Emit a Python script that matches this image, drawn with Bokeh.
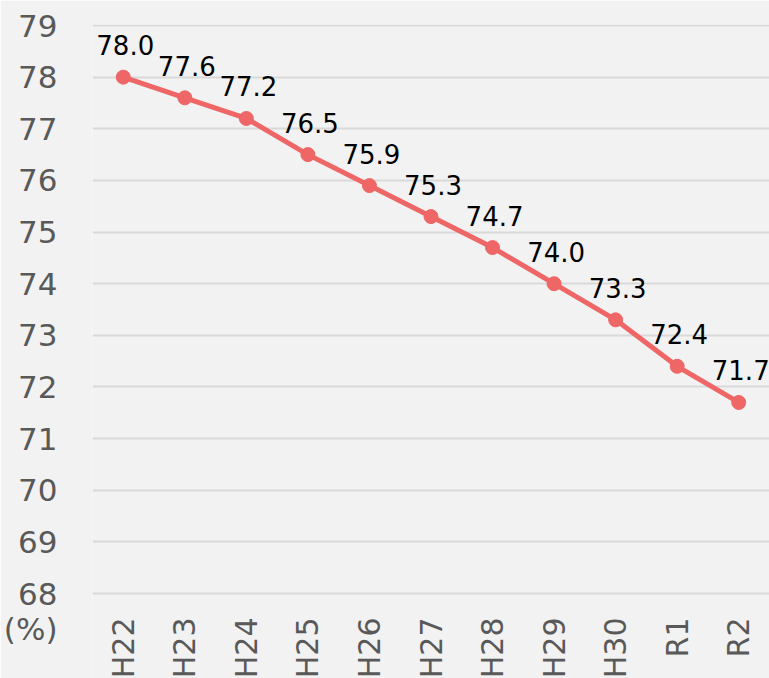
import math
from bokeh.plotting import figure
from bokeh.models import ColumnDataSource, FixedTicker, LabelSet, Range1d
from bokeh.core.properties import value
from bokeh.embed import file_html
from bokeh.resources import INLINE

categories = ["H22", "H23", "H24", "H25", "H26", "H27", "H28", "H29", "H30", "R1", "R2"]
values = [78.0, 77.6, 77.2, 76.5, 75.9, 75.3, 74.7, 74.0, 73.3, 72.4, 71.7]
y_ticks = list(range(68, 80))
unit_label = "(%)"
unit_pos = 67.32

src = ColumnDataSource(dict(x=categories, y=values, lbl=[f"{v:.1f}" for v in values]))
xsrc = ColumnDataSource(dict(x=categories, y=[61] * len(categories), t=categories))

FONT = "DejaVu Sans"
BG = "#f2f2f2"
LINE = "#ee6666"

p = figure(x_range=categories, y_range=Range1d(66.354, 79.02), width=769, height=678,
           output_backend="svg", toolbar_location=None,
           min_border_left=89, min_border_right=0, min_border_top=24, min_border_bottom=0)
p.background_fill_color = BG
p.border_fill_color = BG
p.outline_line_color = None

p.line("x", "y", source=src, line_color=LINE, line_width=5)
p.scatter("x", "y", source=src, size=14, fill_color=LINE, line_color=LINE)
p.text("x", "y", text="lbl", source=src, text_font=value(FONT), text_font_size="26px",
       text_color="#000000", text_align="center", text_baseline="middle",
       x_offset=2, y_offset=-32)

p.yaxis.ticker = FixedTicker(ticks=[unit_pos] + y_ticks)
p.yaxis.major_label_overrides = {unit_pos: unit_label}
p.yaxis.axis_line_color = None
p.yaxis.major_tick_line_color = None
p.yaxis.minor_tick_line_color = None
p.yaxis.major_tick_in = 0
p.yaxis.major_tick_out = 0
p.yaxis.minor_tick_in = 0
p.yaxis.minor_tick_out = 0
p.yaxis.major_label_text_font = FONT
p.yaxis.major_label_text_font_size = "31px"
p.yaxis.major_label_text_color = "#595959"
p.yaxis.major_label_standoff = 35
p.xaxis.visible = False

p.add_layout(LabelSet(x="x", y="y", y_units="screen", text="t", source=xsrc, angle=math.pi / 2,
                      text_font=value(FONT), text_font_size="30px", text_color="#595959",
                      text_align="right", text_baseline="middle"))

p.xgrid.grid_line_color = None
p.ygrid.ticker = FixedTicker(ticks=y_ticks)
p.ygrid.grid_line_color = "#d9d9d9"
p.ygrid.grid_line_width = 2

open("out.html", "w").write(file_html(p, INLINE))
